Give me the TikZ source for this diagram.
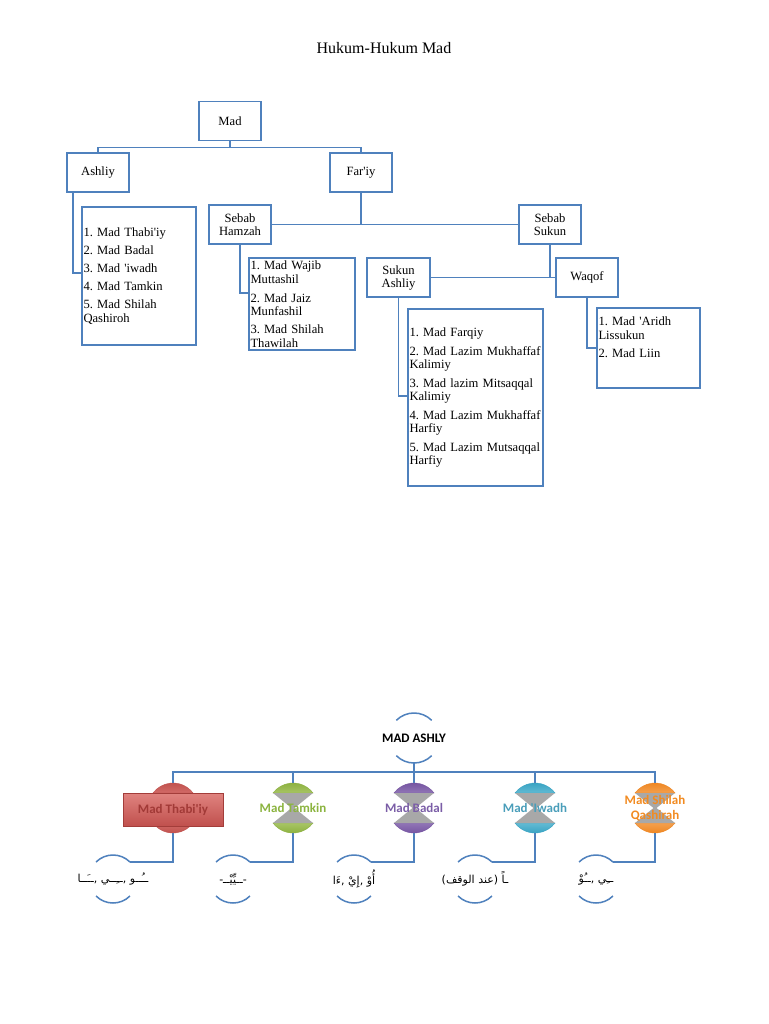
\documentclass[tikz,border=0pt]{standalone}
\usepackage{fontspec}
\setmainfont{Liberation Serif}
\newfontfamily\tnr{Liberation Serif}
\newfontfamily\calib{Carlito}
\newfontfamily\arabicfont[Script=Arabic]{DejaVu Sans}
\TeXXeTstate=1
\definecolor{obl}{HTML}{4F81BD}
\definecolor{redL}{HTML}{E8908C}\definecolor{redD}{HTML}{C0504D}
\definecolor{redT}{HTML}{A23A37}\definecolor{redB}{HTML}{A33D3A}
\definecolor{grnL}{HTML}{CFE29A}\definecolor{grnD}{HTML}{8BB03E}\definecolor{grnT}{HTML}{8CB440}
\definecolor{purL}{HTML}{B9A5D4}\definecolor{purD}{HTML}{7453A0}\definecolor{purT}{HTML}{7B5EA7}
\definecolor{tealL}{HTML}{9EDCEC}\definecolor{tealD}{HTML}{36A2C2}\definecolor{tealT}{HTML}{4A9EBA}
\definecolor{orgL}{HTML}{FCC58C}\definecolor{orgD}{HTML}{EE8520}\definecolor{orgT}{HTML}{F28B21}
\definecolor{waist}{HTML}{A8A8A8}
\newcommand\madcap[3]{%
  \shadedraw[top color=#3,bottom color=#2,draw=#3,line width=0.4pt] (#1,-808) ++(36.87:25) arc[start angle=36.87,end angle=143.13,radius=25] -- cycle;
  \shadedraw[top color=#2,bottom color=#3,draw=#3,line width=0.4pt] (#1,-808) ++(216.87:25) arc[start angle=216.87,end angle=323.13,radius=25] -- cycle;}
\newcommand\madwaist[1]{%
  \fill[waist] (#1-20,-793) -- (#1+20,-793) -- (#1+1.5,-808) -- (#1+20,-823) -- (#1-20,-823) -- (#1-1.5,-808) -- cycle;}
\newcommand\madarcs[2]{% node name, radius
  \draw[arcl] ($(#1.center)+(45:#2)$) arc[start angle=45,end angle=135,radius=#2];
  \draw[arcl] ($(#1.center)+(225:#2)$) arc[start angle=225,end angle=315,radius=#2];}
\newcommand\brk{\kern0pt}
\newcommand\lfont{\tnr\fontsize{12.6}{13.5}\selectfont\frenchspacing\hyphenpenalty10000\exhyphenpenalty10000\relax}
\usetikzlibrary{calc}
\begin{document}
\begin{tikzpicture}[x=1pt,y=1pt,
  tbox/.style={draw=obl,line width=1.8pt,minimum width=62pt,minimum height=39pt,inner sep=1pt,align=center,font=\tnr\fontsize{12.6}{13}\selectfont},
  lbox/.style={draw=obl,line width=1.8pt,inner xsep=1.5pt,inner ysep=0pt,align=left,font=\lfont},
  tconn/.style={draw=obl,line width=1.7pt},
  bconn/.style={draw=obl,line width=1.3pt},
  arcl/.style={draw=obl,line width=1.5pt},
  ring/.style={rectangle,minimum height=50pt,inner sep=0pt,outer sep=0pt,align=center},
  lab/.style={ring,font=\calib\bfseries\fontsize{13}{14}\selectfont},
  arab/.style={rectangle,minimum height=48pt,inner sep=0pt,outer sep=0pt,font=\arabicfont\fontsize{11}{13}\selectfont}]
\useasboundingbox[fill=white] (0,0) rectangle (768,-1024);

% ---------- top tree ----------
\node[font=\tnr\fontsize{16}{18}\selectfont] (title) at (384,-48) {Hukum-Hukum Mad};
\node[tbox] (mad) at (230,-121) {Mad};
\node[tbox] (ashliy) at (98,-172.5) {Ashliy};
\node[tbox] (fariy) at (361,-172.5) {Far'iy};
\node[tbox] (hamzah) at (240,-224.5) {Sebab\\Hamzah};
\node[tbox] (sukun) at (550,-224.5) {Sebab\\Sukun};
\node[tbox,minimum width=63pt] (sashliy) at (398.5,-277.5) {Sukun\\Ashliy};
\node[tbox] (waqof) at (587,-277.5) {Waqof};

\node[lbox,text width=111pt,minimum height=138pt] (alist) at (139,-276)
  {1. Mad Thabi'iy\\[4.5pt]2. Mad Badal\\[4.5pt]3. Mad 'iwadh\\[4.5pt]4. Mad Tamkin\\[4.5pt]5. Mad Shilah\\Qashiroh};
\node[lbox,text width=103pt,minimum height=92pt] (hlist) at (302,-304)
  {1. Mad Wajib\\Muttashil\\[5.5pt]2. Mad Jaiz\\Munfashil\\[4.5pt]3. Mad Shilah\\Thawilah};
\node[lbox,text width=132pt,minimum height=177pt] (slist) at (475.5,-397.5)
  {1. Mad Farqiy\\[5pt]2. Mad Lazim Mukhaffaf\\Kalimiy\\[5pt]3. Mad lazim Mitsaqqal\\Kalimiy\\[5pt]4. Mad Lazim Mukhaffaf\\Harfiy\\[5pt]5. Mad Lazim Mutsaqqal\\Harfiy};
\node[lbox,text width=100pt,minimum height=80pt] (wlist) at (648.5,-348)
  {1. Mad 'Aridh\\Lissukun\\[4.5pt]2. Mad Liin\\[4.5pt]\strut};

\draw[tconn] (mad.south) -- ++(0,-6) -| (ashliy.north);
\draw[tconn] (mad.south) -- ++(0,-6) -| (fariy.north);
\draw[tconn] ([xshift=7pt]ashliy.south west) |- ([yshift=-67pt]alist.north west);
\draw[tconn] (fariy.south) |- (hamzah.east);
\draw[tconn] (fariy.south) |- (sukun.west);
\draw[tconn] (hamzah.south) |- ([yshift=-36pt]hlist.north west);
\draw[tconn] (sukun.south) |- (sashliy.east);
\draw[tconn] (sukun.south) |- (waqof.west);
\draw[tconn] (sashliy.south) |- ([yshift=-88pt]slist.north west);
\draw[tconn] (waqof.south) |- ([yshift=-41pt]wlist.north west);

% ---------- bottom diagram ----------
\madcap{173}{redL}{redD}
\madcap{293}{grnL}{grnD}\madwaist{293}
\madcap{414}{purL}{purD}\madwaist{414}
\madcap{535}{tealL}{tealD}\madwaist{535}
\madcap{655}{orgL}{orgD}\madwaist{655}

\node[ring,font=\calib\bfseries\fontsize{13}{14}\selectfont] (ma) at (414,-738) {MAD ASHLY};
\madarcs{ma}{25}

\node[ring,minimum width=50pt] (c1) at (173,-808) {};
\node[draw=redB,line width=0.8pt,top color=redL!80!redD,bottom color=redD,minimum width=100pt,minimum height=33pt,
      font=\calib\bfseries\fontsize{13}{14}\selectfont,text=redT] (thabi) at (173,-809.5) {Mad Thabi'iy};
\node[lab,text=grnT] (c2) at (293,-808) {Mad Tamkin};
\node[lab,text=purT] (c3) at (414,-808) {Mad Badal};
\node[lab,text=tealT] (c4) at (535,-808) {Mad 'Iwadh};
\node[lab,text=orgT,font=\calib\bfseries\fontsize{13}{15}\selectfont] (c5) at (655,-808) {Mad Shilah\\Qashirah};

\node[arab] (b1) at (113,-879) {\beginR ــُــو ,\brk ــِــي ,\brk ــَــا\endR};
\node[arab] (b2) at (233,-879) {\beginR -\brk ــيِّيْــ\brk -\endR};
\node[arab] (b3) at (354,-879) {\beginR أُوْ ,\brk إِيْ ,\brk ءَا\endR};
\node[arab] (b4) at (475,-879) {\beginR ـاً (عند الوقف)\endR};
\node[arab] (b5) at (596,-879) {\beginR ــِي ,\brk ــُوْ\endR};
\foreach \i in {1,...,5}{\madarcs{b\i}{24}}

\foreach \i in {1,...,5}{
  \draw[bconn] (ma.south) -- ++(0,-9) -| (c\i.north);
  \draw[bconn] (c\i.south) |- ($(b\i.center)+(45:24)$);
}
\end{tikzpicture}
\end{document}
